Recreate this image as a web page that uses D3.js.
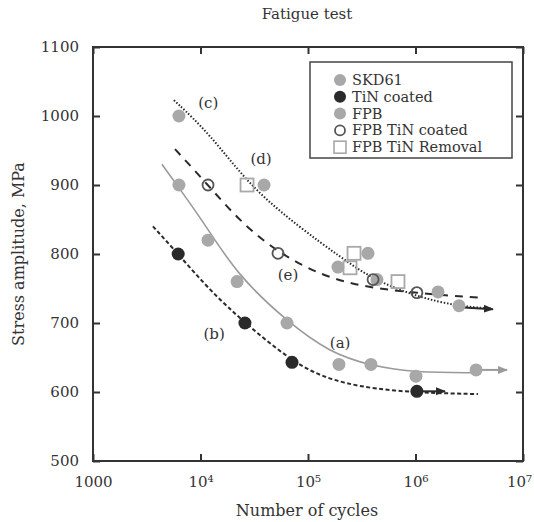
<!DOCTYPE html>
<html>
<head>
<meta charset="utf-8">
<script src="https://cdn.jsdelivr.net/npm/d3@7.9.0/dist/d3.min.js"></script>
<style>
  body { margin: 0; background: #fff; }
  svg text { font-family: "DejaVu Serif", "Liberation Serif", serif; fill: #333; }
</style>
</head>
<body>
<svg id="chart" width="534" height="522"></svg>
<script>
// measured points [cycles, stress MPa]
const skd61 = [[6300, 900], [11750, 820], [21900, 760], [63800, 700], [194000, 640], [385000, 640], [1010000, 623], [3660000, 632]];
const tinCoated = [[6200, 800], [25900, 700], [71000, 643], [1030000, 601]];
const fpb = [[6300, 1000], [39000, 900], [361000, 801], [190000, 781], [438000, 763], [1620000, 745], [2540000, 725]];
const fpbTin = [[11750, 900], [52600, 801], [403000, 763], [1030000, 744]];
const fpbRemoval = [[27100, 900], [268000, 801], [246000, 780], [687000, 760]];

// runouts: [from, to]
const runouts = [
  { from: [3660000, 632], to: [7100000, 632], color: "#9a9a9a" },
  { from: [1030000, 601], to: [1880000, 601], color: "#2a2a2a" },
  { from: [2540000, 723], to: [5250000, 720], color: "#2a2a2a" }
];

// fitted curves
const curveA = [[4380, 930], [6440, 894], [11000, 843], [21900, 770], [63800, 702], [160000, 657], [385000, 638], [1000000, 628], [3660000, 628]];
const curveB = [[3610, 840], [6200, 800], [12250, 747], [25900, 700], [71000, 644], [160000, 616], [580000, 600], [3810000, 597]];
const curveC = [[5660, 1023], [12250, 974], [28800, 898], [84300, 838], [199000, 796], [403000, 763], [1030000, 738], [2540000, 724], [5150000, 721]];
const curveD = [[5790, 952], [11750, 900], [23300, 847], [52600, 802], [129000, 770], [305000, 753], [1030000, 743], [3810000, 737]];

const curveLabels = [
  { t: "(a)", x: 199000, y: 671 },
  { t: "(b)", x: 13400, y: 684 },
  { t: "(c)", x: 11800, y: 1019 },
  { t: "(d)", x: 36600, y: 938 },
  { t: "(e)", x: 65200, y: 770 }
];

const xTicks = [1000, 1e4, 1e5, 1e6, 1e7];
const yTicks = [500, 600, 700, 800, 900, 1000, 1100];

const legendItems = [
  { label: "SKD61", shape: "dot", color: "#a8a8a8" },
  { label: "TiN coated", shape: "dot", color: "#2a2a2a" },
  { label: "FPB", shape: "dot", color: "#a8a8a8" },
  { label: "FPB TiN coated", shape: "ring", color: "#555" },
  { label: "FPB TiN Removal", shape: "square", color: "#a8a8a8" }
];

const svg = d3.select("#chart");
const area = { left: 93, right: 523, top: 47, bottom: 461 };

const x = d3.scaleLog().domain([1000, 1e7]).range([area.left, area.right]);
const y = d3.scaleLinear().domain([500, 1100]).range([area.bottom, area.top]);

const axisColor = "#333";

// ticks on all four sides, pointing inward
const supers = { 4: "\u2074", 5: "\u2075", 6: "\u2076", 7: "\u2077" };
svg.append("g")
  .attr("transform", `translate(0,${area.bottom})`)
  .call(d3.axisBottom(x).tickValues(xTicks).tickSizeInner(-7).tickSizeOuter(0).tickPadding(15)
    .tickFormat(d => d === 1000 ? "1000" : "10" + supers[Math.round(Math.log10(d))]))
  .call(g => g.select(".domain").remove())
  .call(g => g.selectAll("line").attr("stroke", axisColor).attr("stroke-width", 2))
  .call(g => g.selectAll("text").attr("font-size", 15).attr("fill", "#333"))
  .call(g => g.selectAll("text").filter(d => d === 1e7).attr("dx", "-4"));

svg.append("g")
  .attr("transform", `translate(0,${area.top})`)
  .call(d3.axisTop(x).tickValues(xTicks).tickSizeInner(-7).tickSizeOuter(0).tickFormat(""))
  .call(g => g.select(".domain").remove())
  .call(g => g.selectAll("line").attr("stroke", axisColor).attr("stroke-width", 2));

svg.append("g")
  .attr("transform", `translate(${area.left},0)`)
  .call(d3.axisLeft(y).tickValues(yTicks).tickSizeInner(-7).tickSizeOuter(0).tickPadding(14)
    .tickFormat(d3.format("d")))
  .call(g => g.select(".domain").remove())
  .call(g => g.selectAll("line").attr("stroke", axisColor).attr("stroke-width", 2))
  .call(g => g.selectAll("text").attr("font-size", 15).attr("fill", "#333"));

svg.append("g")
  .attr("transform", `translate(${area.right},0)`)
  .call(d3.axisRight(y).tickValues(yTicks).tickSizeInner(-7).tickSizeOuter(0).tickFormat(""))
  .call(g => g.select(".domain").remove())
  .call(g => g.selectAll("line").attr("stroke", axisColor).attr("stroke-width", 2));

svg.append("rect")
  .attr("x", area.left).attr("y", area.top)
  .attr("width", area.right - area.left).attr("height", area.bottom - area.top)
  .attr("fill", "none").attr("stroke", axisColor).attr("stroke-width", 2);

// titles
svg.append("text").attr("x", 307).attr("y", 19).attr("text-anchor", "middle")
  .attr("font-size", 15).text("Fatigue test");
svg.append("text").attr("x", 307).attr("y", 516).attr("text-anchor", "middle")
  .attr("font-size", 16).text("Number of cycles");
svg.append("text").attr("transform", `translate(24,${(area.top + area.bottom) / 2}) rotate(-90)`)
  .attr("text-anchor", "middle").attr("font-size", 16).text("Stress amplitude, MPa");

// arrow heads
const defs = svg.append("defs");
["#9a9a9a", "#2a2a2a"].forEach((c, i) => {
  defs.append("marker").attr("id", "arr" + i)
    .attr("viewBox", "0 0 10 10").attr("refX", 9).attr("refY", 5)
    .attr("markerWidth", 5).attr("markerHeight", 5).attr("orient", "auto")
    .append("path").attr("d", "M0,1L10,5L0,9Z").attr("fill", c);
});

const line = d3.line().x(d => x(d[0])).y(d => y(d[1])).curve(d3.curveBasis);

const plot = svg.append("g");

plot.append("path").attr("d", line(curveA)).attr("fill", "none")
  .attr("stroke", "#9a9a9a").attr("stroke-width", 1.6);
plot.append("path").attr("d", line(curveB)).attr("fill", "none")
  .attr("stroke", "#2a2a2a").attr("stroke-width", 2).attr("stroke-dasharray", "4,2.5");
plot.append("path").attr("d", line(curveC)).attr("fill", "none")
  .attr("stroke", "#2a2a2a").attr("stroke-width", 2).attr("stroke-dasharray", "1.5,1.8");
plot.append("path").attr("d", line(curveD)).attr("fill", "none")
  .attr("stroke", "#2a2a2a").attr("stroke-width", 2).attr("stroke-dasharray", "8,7");

runouts.forEach(r => {
  plot.append("line")
    .attr("x1", x(r.from[0])).attr("y1", y(r.from[1]))
    .attr("x2", x(r.to[0])).attr("y2", y(r.to[1]))
    .attr("stroke", r.color).attr("stroke-width", 2)
    .attr("marker-end", `url(#arr${r.color === "#9a9a9a" ? 0 : 1})`);
});

// data markers
plot.selectAll(".skd").data(skd61).join("circle")
  .attr("cx", d => x(d[0])).attr("cy", d => y(d[1])).attr("r", 6.5).attr("fill", "#a8a8a8");
plot.selectAll(".fpb").data(fpb).join("circle")
  .attr("cx", d => x(d[0])).attr("cy", d => y(d[1])).attr("r", 6.5).attr("fill", "#a8a8a8");
plot.selectAll(".tin").data(tinCoated).join("circle")
  .attr("cx", d => x(d[0])).attr("cy", d => y(d[1])).attr("r", 6.5).attr("fill", "#2a2a2a");
plot.selectAll(".ring").data(fpbTin).join("circle")
  .attr("cx", d => x(d[0])).attr("cy", d => y(d[1])).attr("r", 5.5)
  .attr("fill", "none").attr("stroke", "#555").attr("stroke-width", 1.8);
plot.selectAll(".sq").data(fpbRemoval).join("rect")
  .attr("x", d => x(d[0]) - 6.5).attr("y", d => y(d[1]) - 6.5)
  .attr("width", 13).attr("height", 13)
  .attr("fill", "none").attr("stroke", "#a8a8a8").attr("stroke-width", 1.8);

plot.selectAll(".lab").data(curveLabels).join("text")
  .attr("x", d => x(d.x)).attr("y", d => y(d.y)).attr("dy", "0.35em")
  .attr("text-anchor", "middle").attr("font-size", 15).text(d => d.t);

// legend
const lg = svg.append("g").attr("transform", "translate(310,62)");
lg.append("rect").attr("width", 202).attr("height", 96)
  .attr("fill", "#fff").attr("stroke", "#444").attr("stroke-width", 1.5);
legendItems.forEach((d, i) => {
  const g = lg.append("g").attr("transform", `translate(30,${18 + i * 16.8})`);
  if (d.shape === "dot") g.append("circle").attr("r", 6).attr("fill", d.color);
  if (d.shape === "ring") g.append("circle").attr("r", 5).attr("fill", "none")
    .attr("stroke", d.color).attr("stroke-width", 1.8);
  if (d.shape === "square") g.append("rect").attr("x", -6).attr("y", -6)
    .attr("width", 12).attr("height", 12).attr("fill", "none")
    .attr("stroke", d.color).attr("stroke-width", 1.6);
  g.append("text").attr("x", 12).attr("dy", "0.35em").attr("font-size", 14.5).text(d.label);
});
</script>
</body>
</html>
